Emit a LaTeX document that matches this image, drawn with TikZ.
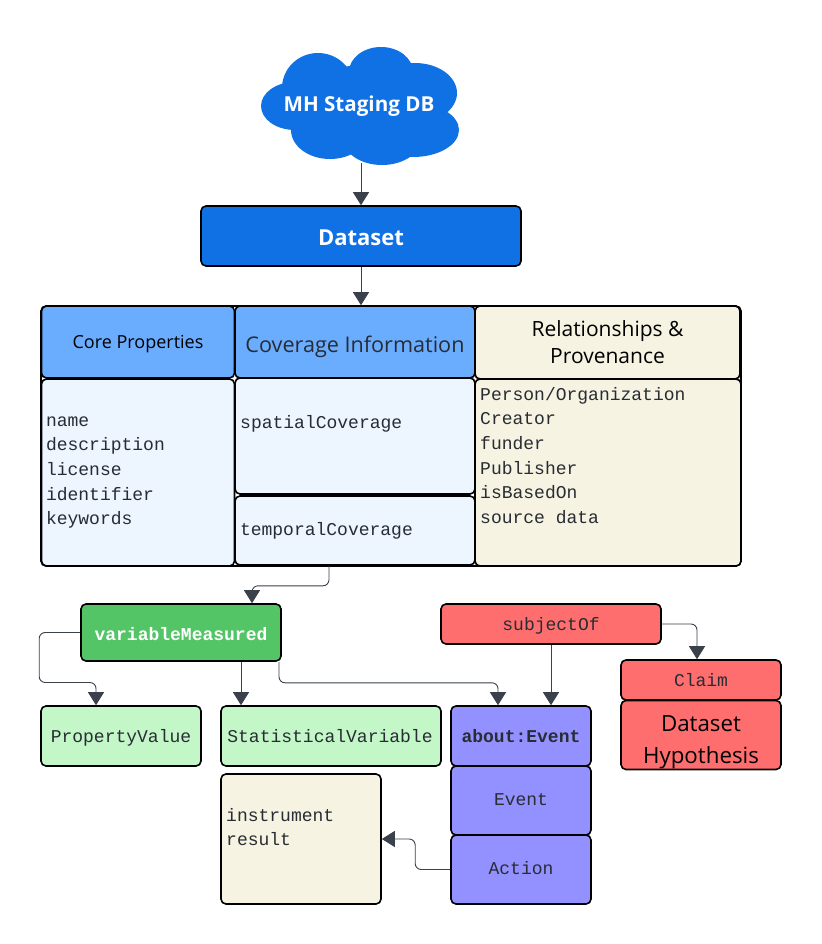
\documentclass[tikz,border=0pt]{standalone}
\usepackage{fontspec}
\setmainfont{Open Sans}
\setmonofont{Liberation Mono}
\usetikzlibrary{arrows.meta}
\definecolor{cloudblue}{HTML}{1071E5}
\definecolor{headblue}{HTML}{6AADFF}
\definecolor{paleblue}{HTML}{EDF5FF}
\definecolor{cream}{HTML}{F6F3E3}
\definecolor{leaf}{HTML}{54C566}
\definecolor{paleleaf}{HTML}{C3F7C8}
\definecolor{coral}{HTML}{FF6E6E}
\definecolor{violet}{HTML}{9391FF}
\definecolor{ink}{HTML}{282C33}
\definecolor{wire}{HTML}{3A414A}
\tikzset{
  box/.style={draw=black,line width=1.6pt,rounded corners=5pt,inner sep=0pt,text=ink,align=left},
  mono/.style={font=\fontsize{18}{24.6}\selectfont\ttfamily},
  lift/.style={text height=#1,text depth=0pt},
  txt/.style={inner sep=0pt,text=ink,align=left,mono},
  link/.style={draw=wire,line width=0.9pt,rounded corners=6pt,-{Triangle[length=13pt,width=16pt]}}
}
\begin{document}
\begin{tikzpicture}[x=1pt,y=-1pt]
\useasboundingbox (0,0) rectangle (821,944);
\fill[white] (0,0) rectangle (821,944);

% cloud
\fill[cloudblue] (295,106) ellipse [x radius=34,y radius=24];
\fill[cloudblue] (318,88) ellipse [x radius=36,y radius=35];
\fill[cloudblue] (381,72) ellipse [x radius=32,y radius=25];
\fill[cloudblue] (415,93) ellipse [x radius=42,y radius=30];
\fill[cloudblue] (413,130) ellipse [x radius=46,y radius=27];
\fill[cloudblue] (330,130) ellipse [x radius=39,y radius=29];
\fill[cloudblue] (382,140) ellipse [x radius=38,y radius=25];
\fill[cloudblue] (360,105) ellipse [x radius=50,y radius=40];
\node[inner sep=0pt,text=white,font=\fontsize{20.6}{24}\selectfont\bfseries](cloud) at (359,106){MH Staging DB};
\coordinate (cloudfoot) at (361,163);

\node[box,fill=cloudblue,minimum width=320pt,minimum height=60pt,text=white,font=\fontsize{22}{24}\selectfont\bfseries,lift=19pt](dataset) at (361,236){Dataset};

% property table
\node[box,minimum width=700pt,minimum height=260pt](table) at (391,436){};
\node[box,fill=headblue,minimum width=193pt,minimum height=72pt,text=black,font=\fontsize{18}{20}\selectfont,lift=13pt](core) at (138,342){Core Properties};
\node[box,fill=paleblue,minimum width=193pt,minimum height=187pt,mono,text width=184pt](corebody) at (138,472.5){name\\description\\license\\identifier\\keywords};
\node[box,fill=headblue,minimum width=240pt,minimum height=72pt,font=\fontsize{21.6}{24}\selectfont,lift=20pt](coverage) at (355,342){Coverage Information};
\node[box,fill=paleblue,minimum width=240pt,minimum height=116pt](spatial) at (355,436){};
\node[txt,anchor=west](spatialtxt) at (240,424){spatialCoverage};
\node[box,fill=paleblue,minimum width=240pt,minimum height=69pt,mono,text width=230pt,lift=9pt](temporal) at (355,530.5){temporalCoverage};
\node[box,fill=cream,minimum width=265pt,minimum height=73pt,align=center,text=black,font=\fontsize{21}{27}\selectfont](relation) at (607.5,342.5){Relationships \&\\Provenance};
\node[box,fill=cream,minimum width=266pt,minimum height=187pt](relbody) at (608,472.5){};
\node[txt,anchor=north west](reltxt) at (480,387){Person/Organization\\Creator\\funder\\Publisher\\isBasedOn\\source data};

% lower left
\node[box,fill=leaf,minimum width=200pt,minimum height=57pt,text=white,font=\fontsize{18}{24}\selectfont\ttfamily\bfseries,lift=15pt](variable) at (181,632.5){variableMeasured};
\node[box,fill=paleleaf,minimum width=160pt,minimum height=60pt,mono,align=center,lift=13pt](propvalue) at (121,736){PropertyValue};
\node[box,fill=paleleaf,minimum width=220pt,minimum height=60pt,mono,align=center,lift=13pt](statvar) at (331,736){\hspace*{-2pt}StatisticalVariable};
\node[box,fill=cream,minimum width=160pt,minimum height=130pt](instrument) at (301,839){};
\node[txt,anchor=north west](instrumenttxt) at (226,808){instrument\\result};

% lower right
\node[box,fill=coral,minimum width=220pt,minimum height=40pt,mono,align=center,lift=12pt](subject) at (551,624){subjectOf};
\node[box,fill=coral,minimum width=160pt,minimum height=40pt,mono,align=center,lift=13pt](claim) at (701,680){Claim};
\node[box,fill=coral,minimum width=160pt,minimum height=69pt](hypothesis) at (701,735){};
\node[inner sep=0pt,text=black,align=center,font=\fontsize{22.3}{32}\selectfont](hypothesistxt) at (701,742){Dataset\\Hypothesis};
\node[box,fill=violet,minimum width=140pt,minimum height=60pt,align=center,font=\fontsize{18}{24}\selectfont\ttfamily\bfseries,lift=12pt](about) at (521,736){about:Event};
\node[box,fill=violet,minimum width=140pt,minimum height=69pt,mono,align=center,lift=9pt](event) at (521,800.5){Event};
\node[box,fill=violet,minimum width=140pt,minimum height=69pt,mono,align=center,lift=9pt](action) at (521,869.5){Action};

% connectors
\draw[link] (cloudfoot) -- (cloudfoot |- dataset.north);
\draw[link] (dataset.south) -- (dataset.south |- table.north);
\draw[link] ([xshift=-26pt]temporal.south) |- ++(-30,20) -| ([xshift=71pt]variable.north);
\draw[link] (variable.west) -- ++(-41,0) |- ++(30,50) -| ([xshift=-25pt]propvalue.north);
\draw[link] ([xshift=60pt]variable.south) -- ([xshift=-90pt]statvar.north);
\draw[link] ([xshift=98pt]variable.south) |- ++(30,21) -| ([xshift=-23pt]about.north);
\draw[link] (subject.south) -- ([xshift=30pt]about.north);
\draw[link] (subject.east) -| ([xshift=-4pt]claim.north);
\draw[link] (action.west) -- ++(-35,0) |- (instrument.east);
\end{tikzpicture}
\end{document}
